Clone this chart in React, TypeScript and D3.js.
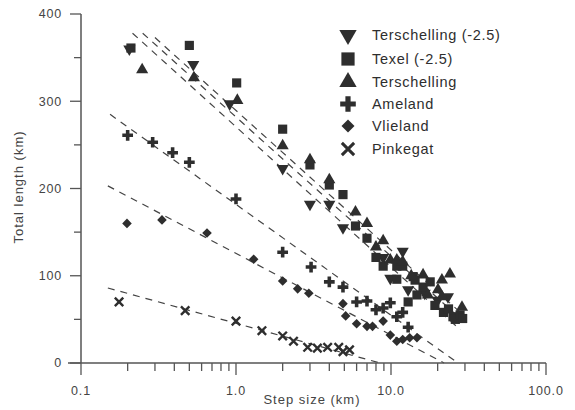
import React, { useEffect, useRef } from "react";
import * as d3 from "d3";

// values: [step size (km), total length (km)]
const terschellingShift = [
  [0.205, 360], [0.53, 342], [0.91, 297], [2.0, 223], [3.0, 182], [4.0, 182],
  [4.9, 155], [8.9, 121], [9.9, 97], [11.9, 128], [12.9, 84], [16.5, 80],
  [20, 72], [23.3, 76],
];
const texelShift = [
  [0.21, 361], [0.5, 364], [1.01, 321], [2.0, 268], [3.0, 227], [4.0, 204],
  [4.9, 193], [5.9, 157], [7.0, 143], [8.0, 121], [8.9, 111], [10.9, 111],
  [11.9, 111], [10.9, 96], [13.9, 99], [14.3, 95], [14.7, 78], [12.9, 70],
  [16.1, 87], [17.9, 93], [19.2, 66], [21.8, 58], [23.5, 62], [25.1, 53],
  [26, 50], [27.9, 55], [29, 51],
];
const terschelling = [
  [0.248, 336], [0.535, 327], [1.02, 301], [2.0, 249], [3.0, 233], [4.0, 210],
  [5.9, 173], [7.0, 160], [8.0, 133], [8.9, 140], [9.9, 118], [10.9, 118],
  [11.9, 116], [13.5, 100], [16.1, 101], [17.3, 78], [20.1, 84], [21.3, 95],
  [21.3, 76], [24, 102], [28.7, 64],
];
const ameland = [
  [0.2, 261], [0.29, 253], [0.39, 241], [0.5, 230], [1.0, 188], [2.0, 127],
  [3.05, 110], [4.0, 93], [4.9, 87], [6.0, 70], [7.0, 71], [8.0, 61],
  [8.9, 63], [9.9, 69], [10.9, 53], [11.9, 58], [12.9, 41],
];
const vlieland = [
  [0.198, 160], [0.333, 164], [0.65, 149], [1.3, 119], [2.0, 94], [2.5, 85],
  [2.95, 80], [4.9, 68], [5.1, 54], [6.0, 45], [7.0, 42], [7.6, 42],
  [8.9, 48], [9.9, 32], [10.9, 25], [11.9, 27], [13.2, 29], [14.7, 29],
];
const pinkegat = [
  [0.176, 70], [0.47, 60], [1.0, 48], [1.47, 37], [2.0, 31], [2.35, 25],
  [2.9, 18], [3.35, 17], [3.9, 18], [4.6, 18], [4.9, 13], [5.4, 15],
];

// dashed fit lines: [x1, y1, x2, y2]
const fitLines = [
  [0.215, 378, 28, 38],
  [0.25, 378, 28, 51],
  [0.3, 373, 28, 58],
  [0.154, 285, 27, 0],
  [0.149, 203, 22, 0],
  [0.149, 86, 8.5, 0],
];

const xTickValues = [0.1, 1, 10, 100];
const xTickLabels = ["0.1", "1.0", "10.0", "100.0"];
const yTickValues = [0, 100, 200, 300, 400];

const legendNames = [
  "Terschelling (-2.5)",
  "Texel (-2.5)",
  "Terschelling",
  "Ameland",
  "Vlieland",
  "Pinkegat",
];

const ink = "#2e2e2e";

export default function App() {
  const ref = useRef<SVGSVGElement>(null);

  useEffect(() => {
    const svg = d3.select(ref.current);
    svg.selectAll("*").remove();

    const x = d3.scaleLog().domain([0.1, 100]).range([81, 546]);
    const y = d3.scaleLinear().domain([0, 400]).range([363, 14]);

    const font = "'Liberation Sans', Arial, sans-serif";

    // marker types (diamond = square turned 45 degrees)
    const kinds = [
      { type: d3.symbolTriangle, size: 64, rot: 180, stroke: false },
      { type: d3.symbolSquare, size: 84, rot: 0, stroke: false },
      { type: d3.symbolTriangle, size: 64, rot: 0, stroke: false },
      { type: d3.symbolCross, size: 64, rot: 0, stroke: false },
      { type: d3.symbolSquare, size: 46, rot: 45, stroke: false },
      { type: d3.symbolX, size: 48, rot: 0, stroke: true },
    ];
    const series = [terschellingShift, texelShift, terschelling, ameland, vlieland, pinkegat];

    // Dashed fit lines
    svg
      .append("g")
      .selectAll("line")
      .data(fitLines)
      .join("line")
      .attr("x1", (d) => x(d[0]))
      .attr("y1", (d) => y(d[1]))
      .attr("x2", (d) => x(d[2]))
      .attr("y2", (d) => y(d[3]))
      .attr("stroke", "#444")
      .attr("stroke-width", 1.2)
      .attr("stroke-dasharray", "7,6");

    // Points
    series.forEach((data, i) => {
      const k = kinds[i];
      const sym = d3.symbol().type(k.type).size(k.size);
      svg
        .append("g")
        .selectAll("path")
        .data(data)
        .join("path")
        .attr("d", sym)
        .attr("transform", (d) => `translate(${x(d[0])},${y(d[1])}) rotate(${k.rot})`)
        .attr("fill", k.stroke ? "none" : ink)
        .attr("stroke", k.stroke ? ink : "none")
        .attr("stroke-width", k.stroke ? 2.4 : 0);
    });

    // Axes
    const axisColor = "#555";
    const ax = svg.append("g");
    ax.append("line")
      .attr("x1", 68).attr("x2", x(100))
      .attr("y1", y(0)).attr("y2", y(0))
      .attr("stroke", axisColor).attr("stroke-width", 1.5);
    ax.append("line")
      .attr("x1", x(0.1)).attr("x2", x(0.1))
      .attr("y1", y(400)).attr("y2", y(0))
      .attr("stroke", axisColor).attr("stroke-width", 1.5);

    // x ticks
    const xTicks = x.ticks();
    ax.selectAll(".xt")
      .data(xTicks)
      .join("line")
      .attr("x1", (d) => x(d)).attr("x2", (d) => x(d))
      .attr("y1", y(0))
      .attr("y2", (d) => y(0) + (xTickValues.some((v) => Math.abs(v - d) < 1e-9) ? 12 : 8))
      .attr("stroke", axisColor).attr("stroke-width", 1.3);
    ax.selectAll(".xl")
      .data(xTickValues)
      .join("text")
      .attr("x", (d) => x(d))
      .attr("y", 395)
      .attr("text-anchor", "middle")
      .attr("font-family", font)
      .attr("font-size", 12.5)
      .attr("letter-spacing", 0.8)
      .attr("fill", "#444")
      .text((d, i) => xTickLabels[i]);

    // y ticks
    ax.selectAll(".yt")
      .data(d3.range(0, 401, 50))
      .join("line")
      .attr("x1", (d) => x(0.1) - (d % 100 === 0 ? 11 : 7))
      .attr("x2", x(0.1))
      .attr("y1", (d) => y(d)).attr("y2", (d) => y(d))
      .attr("stroke", axisColor).attr("stroke-width", 1.3);
    ax.selectAll(".yl")
      .data(yTickValues)
      .join("text")
      .attr("x", 62)
      .attr("y", (d) => y(d))
      .attr("dy", "0.35em")
      .attr("text-anchor", "end")
      .attr("font-family", font)
      .attr("font-size", 12.5)
      .attr("letter-spacing", 0.8)
      .attr("fill", "#444")
      .text((d) => d);

    // Axis titles
    svg.append("text")
      .attr("x", 312).attr("y", 404)
      .attr("text-anchor", "middle")
      .attr("font-family", font).attr("font-size", 13)
      .attr("letter-spacing", 1)
      .attr("fill", "#444")
      .text("Step size (km)");
    svg.append("text")
      .attr("transform", "translate(23,187) rotate(-90)")
      .attr("text-anchor", "middle")
      .attr("font-family", font).attr("font-size", 13)
      .attr("letter-spacing", 1)
      .attr("fill", "#444")
      .text("Total length (km)");

    // Legend
    const legendY = [35, 59, 82, 104, 126, 149];
    const legendSizes = [130, 175, 130, 135, 85, 100];
    const lg = svg.append("g");
    legendNames.forEach((name, i) => {
      const k = kinds[i];
      lg.append("path")
        .attr("d", d3.symbol().type(k.type).size(legendSizes[i]))
        .attr("transform", `translate(348,${legendY[i]}) rotate(${k.rot})`)
        .attr("fill", k.stroke ? "none" : ink)
        .attr("stroke", k.stroke ? ink : "none")
        .attr("stroke-width", k.stroke ? 3 : 0);
      lg.append("text")
        .attr("x", 372)
        .attr("y", legendY[i])
        .attr("dy", "0.36em")
        .attr("font-family", font)
        .attr("font-size", 14.5)
        .attr("letter-spacing", 0.7)
        .attr("fill", ink)
        .text(name);
    });
  }, []);

  return (
    <svg
      ref={ref}
      width={575}
      height={410}
      style={{ position: "absolute", left: 0, top: 0, background: "#fff" }}
    />
  );
}
